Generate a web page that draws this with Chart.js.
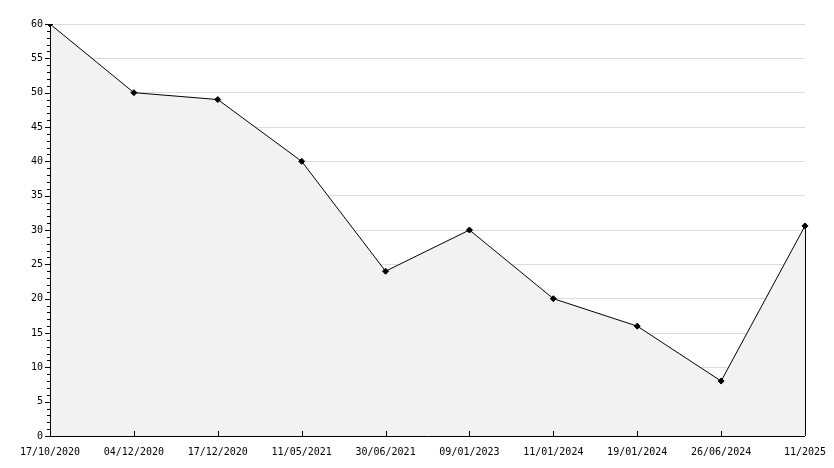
<!DOCTYPE html>
<html>
<head>
<meta charset="UTF-8">
<script src="https://cdn.jsdelivr.net/npm/chart.js"></script>
<style>
  html, body { margin: 0; padding: 0; background: #fff; }
  #wrap { width: 834px; height: 468px; }
</style>
</head>
<body>
<div id="wrap"><canvas id="grafico"></canvas></div>
<script>
  // Dados
  const datas = ['17/10/2020', '04/12/2020', '17/12/2020', '11/05/2021', '30/06/2021',
                 '09/01/2023', '11/01/2024', '19/01/2024', '26/06/2024', '11/2025'];
  const valores = [60, 50, 49, 40, 24, 30, 20, 16, 8, 30.6];
  const yMin = 0, yMax = 60, yPasso = 5;

  // Eixos desenhados à mão: linhas pretas, ticks menores no eixo y, ticks no x
  const eixos = {
    id: 'eixos',
    afterDatasetsDraw(chart) {
      const ctx = chart.ctx, a = chart.chartArea;
      const x = chart.scales.x, y = chart.scales.y;
      ctx.save();
      ctx.strokeStyle = '#000';
      ctx.lineWidth = 1;
      ctx.beginPath();
      ctx.moveTo(a.left + 0.5, a.top);
      ctx.lineTo(a.left + 0.5, a.bottom + 0.5);
      ctx.lineTo(a.right, a.bottom + 0.5);
      for (let v = yMin; v <= yMax; v++) {
        const py = Math.round(y.getPixelForValue(v)) + 0.5;
        const len = v % yPasso === 0 ? 5 : 3;
        ctx.moveTo(a.left - len, py);
        ctx.lineTo(a.left, py);
      }
      datas.forEach((d, i) => {
        const px = Math.round(x.getPixelForValue(i)) + 0.5;
        ctx.moveTo(px, a.bottom);
        ctx.lineTo(px, a.bottom - 5);
      });
      // borda direita da área preenchida
      const ult = chart.getDatasetMeta(0).data[valores.length - 1];
      ctx.moveTo(Math.round(ult.x) + 0.5, ult.y);
      ctx.lineTo(Math.round(ult.x) + 0.5, a.bottom);
      ctx.stroke();
      ctx.restore();
    }
  };

  new Chart(document.getElementById('grafico'), {
    type: 'line',
    data: {
      labels: datas,
      datasets: [{
        data: valores,
        borderColor: '#000',
        borderWidth: 1,
        backgroundColor: '#f2f2f2',
        fill: 'origin',
        tension: 0,
        pointStyle: 'rectRot',
        pointRadius: 3,
        pointBackgroundColor: '#000',
        pointBorderColor: '#000'
      }]
    },
    options: {
      responsive: true,
      maintainAspectRatio: false,
      animation: false,
      layout: { padding: { top: 24, right: 29, left: 0, bottom: 8 } },
      plugins: { legend: { display: false }, tooltip: { enabled: false } },
      scales: {
        x: {
          type: 'category',
          offset: false,
          grid: { display: false },
          border: { display: false },
          ticks: {
            maxRotation: 0, autoSkip: false, padding: 2,
            color: '#000', font: { family: 'DejaVu Sans Mono', size: 10 }
          }
        },
        y: {
          min: yMin, max: yMax,
          afterFit(s) { s.width = 50; },
          grid: { color: '#dcdcdc', drawTicks: false },
          border: { display: false },
          ticks: {
            stepSize: yPasso, padding: 7,
            color: '#000', font: { family: 'DejaVu Sans Mono', size: 10 }
          }
        }
      }
    },
    plugins: [eixos]
  });
</script>
</body>
</html>
